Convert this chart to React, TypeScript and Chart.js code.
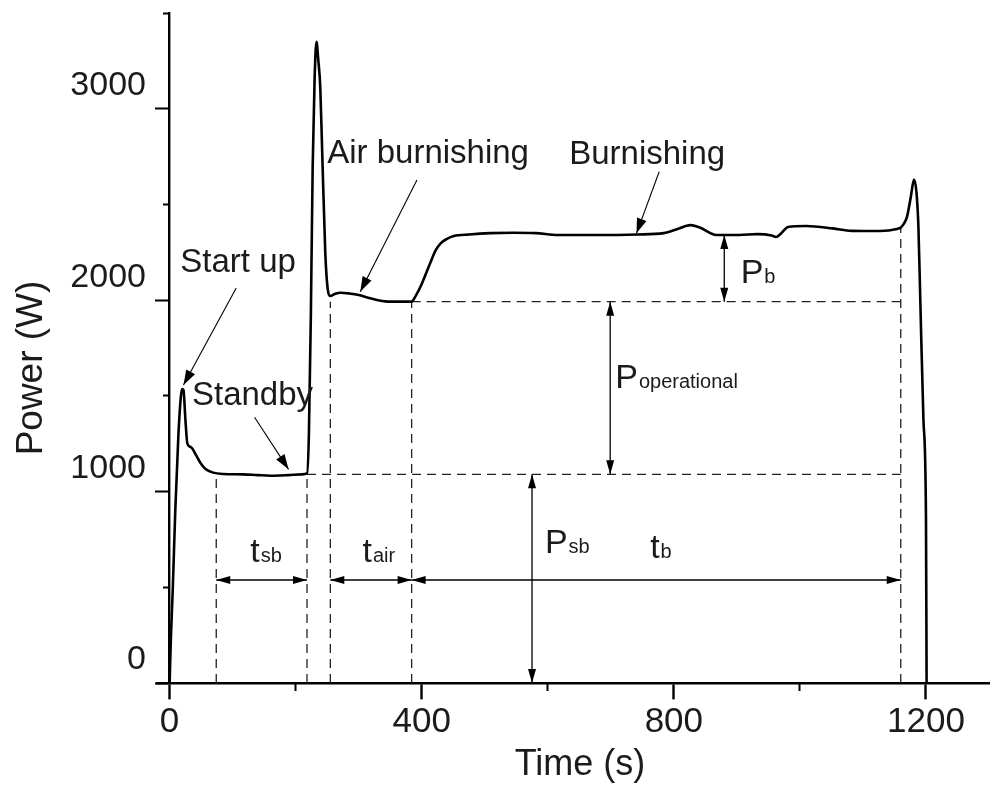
import { useEffect, useRef } from 'react';
import { Chart, registerables } from 'chart.js';

Chart.register(...registerables);

// Measured power trace of one burnishing cycle
const timeS = [
  0, 2, 5, 9, 14, 18, 20, 22, 25, 28, 32, 36, 42, 49, 57, 69, 85, 117, 140, 160, 188, 210, 218,
  221, 224, 227, 230, 233, 236, 239, 242, 247, 252, 255, 262, 271, 285, 300, 315, 329, 350, 384,
  390, 398, 413, 422, 430, 440, 451, 475, 509, 545, 581, 616, 682, 742, 784, 805, 826, 843, 858,
  868, 904, 933, 955, 962, 970, 981, 1010, 1052, 1082, 1127, 1154, 1160, 1166, 1170, 1176, 1181,
  1185, 1188, 1191, 1196, 1200, 1201,
];
const powerW = [
  0, 230, 490, 900, 1300, 1500, 1535, 1530, 1380, 1254, 1235, 1225, 1190, 1149, 1118, 1099, 1092,
  1090, 1086, 1083, 1086, 1090, 1095, 1300, 1900, 2700, 3150, 3350, 3250, 3115, 2784, 2246, 2036,
  2022, 2032, 2039, 2035, 2027, 2012, 2001, 1992, 1992, 2020, 2070, 2190, 2260, 2297, 2320, 2335,
  2343, 2350, 2352, 2350, 2340, 2340, 2343, 2350, 2370, 2392, 2377, 2350, 2340, 2340, 2345, 2338,
  2330, 2348, 2382, 2387, 2375, 2362, 2361, 2372, 2380, 2405, 2436, 2540, 2630, 2560, 2384, 2000,
  1374, 869, 0,
];

// Reference levels (W) and phase boundaries (s)
const P_SB = 1090;
const P_OP = 1992;
const P_BURN = 2340;
const T_SB_START = 74;
const T_SB_END = 218;
const T_AIR_START = 255;
const T_AIR_END = 384;
const T_B_END = 1160;
const T_B_TOP = 2377;
const SPAN_W = 538;

// Axis ticks
const xMajorTicks = [0, 400, 800, 1200];
const xMinorTicks = [200, 600, 1000];
const yMajorTicks = [0, 1000, 2000, 3000];
const yMinorTicks = [500, 1500, 2500, 3500];

const SANS = "'Liberation Sans', Arial, Helvetica, sans-serif";
const INK = '#1b1b1b';

type Pt = [number, number];

const callouts: { text: string; at: Pt; from: Pt; to: Pt }[] = [
  { text: 'Start up', at: [17, 2147], from: [105.7, 2063], to: [22, 1557] },
  { text: 'Standby', at: [35.5, 1452], from: [134.8, 1388], to: [188.7, 1116] },
  { text: 'Air burnishing', at: [250, 2716], from: [392.4, 2628], to: [302.5, 2044] },
  { text: 'Burnishing', at: [634, 2711], from: [776.7, 2671], to: [740.8, 2349] },
];

const spans: { main: string; sub: string; at: Pt; from: Pt; to: Pt }[] = [
  { main: 't', sub: 'sb', at: [128, 632], from: [T_SB_START, SPAN_W], to: [T_SB_END, SPAN_W] },
  { main: 't', sub: 'air', at: [306, 632], from: [T_AIR_START, SPAN_W], to: [T_AIR_END, SPAN_W] },
  { main: 't', sub: 'b', at: [762.4, 653], from: [T_AIR_END, SPAN_W], to: [T_B_END, SPAN_W] },
  { main: 'P', sub: 'sb', at: [595.4, 679], from: [575, 0], to: [575, P_SB] },
  { main: 'P', sub: 'operational', at: [707, 1541], from: [699, P_SB], to: [699, P_OP] },
  { main: 'P', sub: 'b', at: [906, 2089], from: [880, P_OP], to: [880, P_BURN] },
];

const guideLines: Pt[][] = [
  [[T_SB_START, 0], [T_SB_START, P_SB]],
  [[T_SB_END, 0], [T_SB_END, P_SB]],
  [[T_AIR_START, 0], [T_AIR_START, P_OP]],
  [[T_AIR_END, 0], [T_AIR_END, P_OP]],
  [[T_B_END, 0], [T_B_END, T_B_TOP]],
  [[T_SB_END, P_SB], [T_B_END, P_SB]],
  [[T_AIR_END, P_OP], [T_B_END, P_OP]],
];

function arrowHead(ctx: CanvasRenderingContext2D, tx: number, ty: number, fx: number, fy: number, len: number, half: number) {
  const a = Math.atan2(ty - fy, tx - fx);
  const bx = tx - Math.cos(a) * len;
  const by = ty - Math.sin(a) * len;
  ctx.beginPath();
  ctx.moveTo(tx, ty);
  ctx.lineTo(bx + Math.sin(a) * half, by - Math.cos(a) * half);
  ctx.lineTo(bx - Math.sin(a) * half, by + Math.cos(a) * half);
  ctx.closePath();
  ctx.fill();
}

const annotationPlugin = {
  id: 'burnishingAnnotations',
  afterDatasetsDraw(chart: any) {
    const { ctx, scales } = chart;
    const px = (t: number) => scales.x.getPixelForValue(t);
    const py = (w: number) => scales.y.getPixelForValue(w);
    ctx.save();
    ctx.fillStyle = '#000';
    ctx.strokeStyle = '#000';

    // leader arrows with phase names
    for (const c of callouts) {
      const x1 = px(c.from[0]);
      const y1 = py(c.from[1]);
      const x2 = px(c.to[0]);
      const y2 = py(c.to[1]);
      ctx.lineWidth = 1.1;
      ctx.beginPath();
      ctx.moveTo(x1, y1);
      ctx.lineTo(x2, y2);
      ctx.stroke();
      arrowHead(ctx, x2, y2, x1, y1, 15, 5);
      ctx.fillStyle = INK;
      ctx.font = `33px ${SANS}`;
      ctx.textAlign = 'left';
      ctx.textBaseline = 'alphabetic';
      ctx.fillText(c.text, px(c.at[0]), py(c.at[1]));
      ctx.fillStyle = '#000';
    }

    // dimension arrows with symbols
    for (const s of spans) {
      const x1 = px(s.from[0]);
      const y1 = py(s.from[1]);
      const x2 = px(s.to[0]);
      const y2 = py(s.to[1]);
      ctx.lineWidth = 1.3;
      ctx.beginPath();
      ctx.moveTo(x1, y1);
      ctx.lineTo(x2, y2);
      ctx.stroke();
      arrowHead(ctx, x1, y1, x2, y2, 14, 4);
      arrowHead(ctx, x2, y2, x1, y1, 14, 4);
      ctx.fillStyle = INK;
      ctx.textAlign = 'left';
      ctx.textBaseline = 'alphabetic';
      const lx = px(s.at[0]);
      const ly = py(s.at[1]);
      ctx.font = `34px ${SANS}`;
      ctx.fillText(s.main, lx, ly);
      const w = ctx.measureText(s.main).width;
      ctx.font = `20px ${SANS}`;
      ctx.fillText(s.sub, lx + w + 1, ly);
      ctx.fillStyle = '#000';
    }
    ctx.restore();
  },
  afterDraw(chart: any) {
    const { ctx, chartArea } = chart;
    ctx.save();
    ctx.fillStyle = INK;
    ctx.textBaseline = 'alphabetic';
    ctx.textAlign = 'center';
    ctx.font = `36px ${SANS}`;
    ctx.fillText('Time (s)', chartArea.left + 423, chartArea.bottom + 92);
    ctx.translate(42, chartArea.top + 355);
    ctx.rotate(-Math.PI / 2);
    ctx.font = `37px ${SANS}`;
    ctx.fillText('Power (W)', 0, 0);
    ctx.restore();
  },
};

const fixedTicks = (values: number[]) => (scale: any) => {
  scale.ticks = values.map((value) => ({ value }));
};
const noPadding = (scale: any) => {
  scale.paddingTop = 0;
  scale.paddingBottom = 0;
  scale.paddingLeft = 0;
  scale.paddingRight = 0;
};
const plainNumber = (v: any) => String(v);

export default function App() {
  const canvasRef = useRef<HTMLCanvasElement | null>(null);

  useEffect(() => {
    const canvas = canvasRef.current;
    if (!canvas) return;

    const guideSets = guideLines.map((seg) => ({
      type: 'line' as const,
      data: seg.map(([x, y]) => ({ x, y })),
      borderColor: '#222',
      borderWidth: 1.3,
      borderDash: [9, 6],
      pointRadius: 0,
      tension: 0,
      order: 2,
    }));

    const chart = new Chart(canvas, {
      type: 'line',
      data: {
        datasets: [
          {
            data: timeS.map((t, i) => ({ x: t, y: powerW[i] })),
            borderColor: '#000',
            borderWidth: 2.6,
            pointRadius: 0,
            cubicInterpolationMode: 'monotone',
            order: 1,
          },
          ...guideSets,
        ],
      },
      options: {
        animation: false,
        responsive: false,
        layout: { padding: { left: 157, top: 13, right: 4, bottom: 103 } },
        plugins: { legend: { display: false }, tooltip: { enabled: false } },
        scales: {
          x: {
            type: 'linear',
            axis: 'x',
            min: -20,
            max: 1300,
            position: { y: 0 },
            afterBuildTicks: fixedTicks(xMajorTicks),
            afterFit: noPadding,
            border: { display: true, color: '#000', width: 2.4 },
            grid: { drawOnChartArea: false, tickLength: 15, tickWidth: 2.4, tickColor: '#000' },
            ticks: {
              autoSkip: false,
              maxRotation: 0,
              padding: 3,
              color: INK,
              font: { family: SANS, size: 35 },
              callback: plainNumber,
            },
          },
          xMinor: {
            type: 'linear',
            axis: 'x',
            min: -20,
            max: 1300,
            position: { y: 0 },
            afterBuildTicks: fixedTicks(xMinorTicks),
            afterFit: noPadding,
            border: { display: false },
            grid: { drawOnChartArea: false, tickLength: 8, tickWidth: 2, tickColor: '#000' },
            ticks: { display: false },
          },
          y: {
            type: 'linear',
            axis: 'y',
            min: 0,
            max: 3500,
            position: { x: 0 },
            afterBuildTicks: fixedTicks(yMajorTicks),
            afterFit: noPadding,
            border: { display: true, color: '#000', width: 2.4 },
            grid: { drawOnChartArea: false, tickLength: 13, tickWidth: 2, tickColor: '#000' },
            ticks: { display: false },
          },
          yMinor: {
            type: 'linear',
            axis: 'y',
            min: 0,
            max: 3500,
            position: { x: 0 },
            afterBuildTicks: fixedTicks(yMinorTicks),
            afterFit: noPadding,
            border: { display: false },
            grid: { drawOnChartArea: false, tickLength: 7, tickWidth: 2, tickColor: '#000' },
            ticks: { display: false },
          },
          // label column for the power axis, set just left of the tick marks
          yLabels: {
            type: 'linear',
            axis: 'y',
            min: 0,
            max: 3500,
            position: { x: -37.5 },
            afterBuildTicks: fixedTicks(yMajorTicks),
            afterFit: noPadding,
            border: { display: false },
            grid: { display: false, drawTicks: false },
            ticks: {
              labelOffset: -23,
              padding: 0,
              color: INK,
              font: { family: SANS, size: 34 },
              callback: plainNumber,
            },
          },
        },
      } as any,
      plugins: [annotationPlugin],
    });

    return () => chart.destroy();
  }, []);

  return (
    <div style={{ position: 'fixed', left: 0, top: 0, width: 993, height: 786, background: '#fff' }}>
      <canvas ref={canvasRef} width={993} height={786} style={{ display: 'block', width: 993, height: 786 }} />
    </div>
  );
}
